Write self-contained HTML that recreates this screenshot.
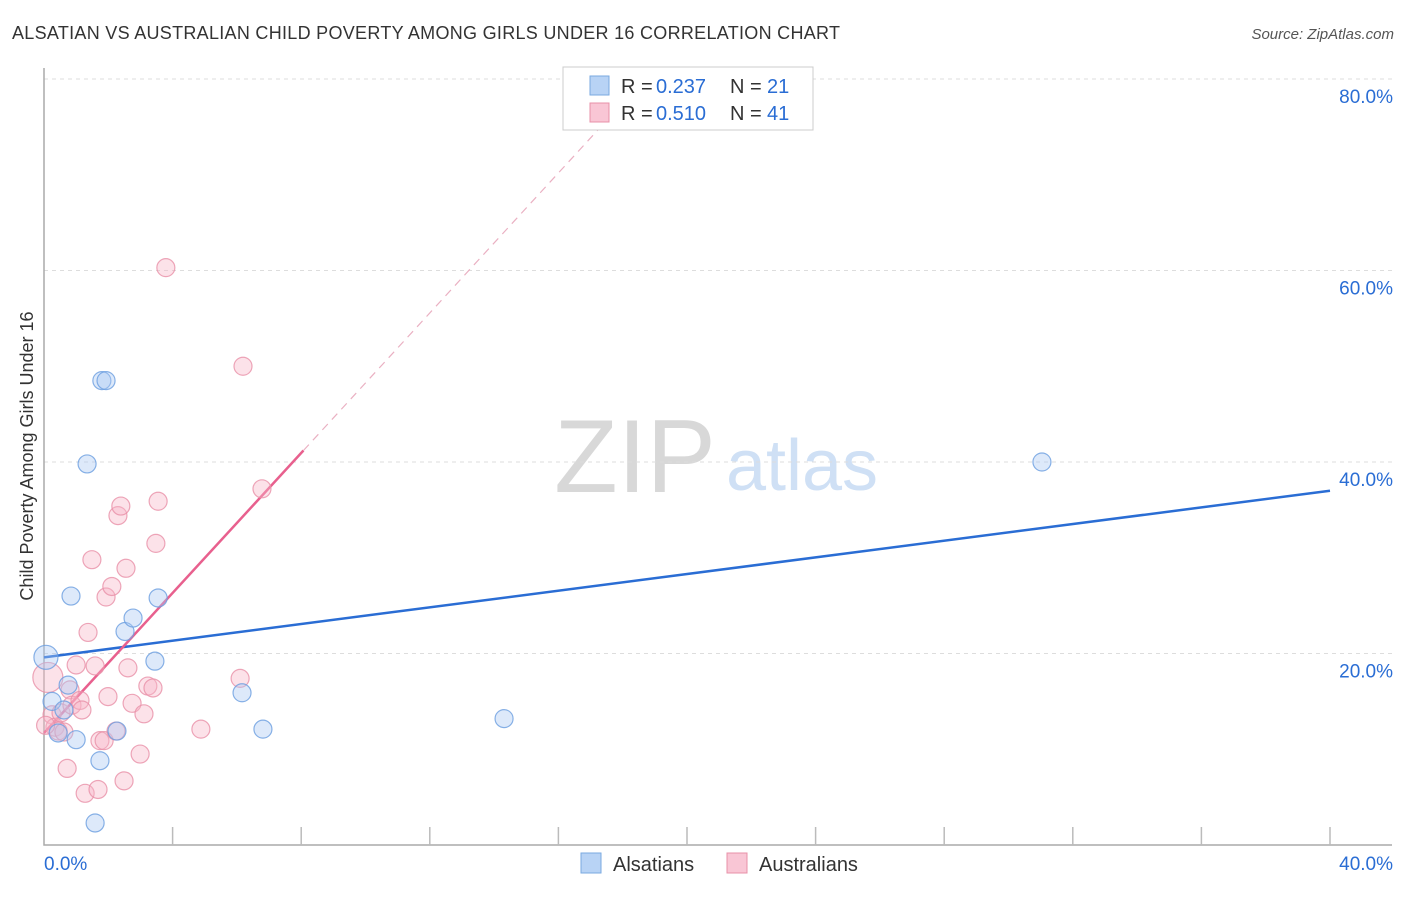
<!DOCTYPE html>
<html><head><meta charset="utf-8"><style>
body{margin:0;background:#fff;font-family:"Liberation Sans",sans-serif}
svg text{font-family:"Liberation Sans",sans-serif}
</style></head><body>
<svg id="c" width="1406" height="892">
<text x="12" y="39" font-size="18" fill="#333" textLength="828" lengthAdjust="spacing">ALSATIAN VS AUSTRALIAN CHILD POVERTY AMONG GIRLS UNDER 16 CORRELATION CHART</text>
<text x="1394" y="39" font-size="15" fill="#555" text-anchor="end" font-style="italic">Source: ZipAtlas.com</text>
<text transform="translate(33,456) rotate(-90)" font-size="18" fill="#333" text-anchor="middle">Child Poverty Among Girls Under 16</text>
<g><text x="635" y="492" font-size="104" fill="#d8d8d8" text-anchor="middle" font-family="Liberation Serif">ZIP</text><text x="802" y="490" font-size="72" fill="#cfe0f5" text-anchor="middle">atlas</text></g>
<g id="grid"></g><g id="axes"></g><g id="lines"></g><g id="pts"></g>
<g>
<rect x="563" y="67" width="250" height="63" fill="#fff" stroke="#ccc"/>
<rect x="590" y="76" width="19" height="19" fill="#b8d3f5" stroke="#7aaae0"/>
<text y="93" font-size="20" fill="#333"><tspan x="621">R = </tspan><tspan fill="#2a6dd4" x="656">0.237</tspan><tspan x="730">N = </tspan><tspan fill="#2a6dd4" x="767">21</tspan></text>
<rect x="590" y="103" width="19" height="19" fill="#f9c6d5" stroke="#e890a8"/>
<text y="120" font-size="20" fill="#333"><tspan x="621">R = </tspan><tspan fill="#2a6dd4" x="656">0.510</tspan><tspan x="730">N = </tspan><tspan fill="#2a6dd4" x="767">41</tspan></text>
</g>
<g>
<rect x="581" y="853" width="20" height="20" fill="#b8d3f5" stroke="#7aaae0"/><text x="613" y="871" font-size="20" fill="#333">Alsatians</text>
<rect x="727" y="853" width="20" height="20" fill="#f9c6d5" stroke="#e890a8"/><text x="759" y="871" font-size="20" fill="#333">Australians</text>
</g>
</svg>
<script>
const blueX=[0.06,0.25,0.44,0.62,0.75,0.84,1.0,1.34,1.59,1.74,1.80,1.93,2.27,2.52,2.77,3.45,3.55,6.16,6.81,14.31,31.04];
const blueY=[19.6,15.0,11.7,14.1,16.7,26.0,11.0,39.8,2.3,8.8,48.5,48.5,11.9,22.3,23.7,19.2,25.8,15.9,12.1,13.2,40.0];
const pinkX=[0.12,0.25,0.34,0.44,0.53,0.62,0.72,0.81,0.87,1.0,1.12,1.18,1.28,1.37,1.49,1.59,1.68,1.74,1.87,1.93,1.99,2.11,2.24,2.30,2.39,2.49,2.55,2.61,2.74,2.99,3.11,3.23,3.39,3.48,3.55,3.79,4.88,6.10,6.19,6.78,0.05];
const pinkY=[17.5,13.6,12.3,11.9,13.8,11.8,8.0,16.2,14.6,18.8,15.1,14.1,5.4,22.2,29.8,18.7,5.8,10.9,10.9,25.9,15.5,27.0,11.9,34.4,35.4,6.7,28.9,18.5,14.8,9.5,13.7,16.6,16.4,31.5,35.9,60.3,12.1,17.4,50.0,37.2,12.5];
const yTicks=[20,40,60,80];
const yTickLabels=["20.0%","40.0%","60.0%","80.0%"];
const xTicks=[0,4,8,12,16,20,24,28,32,36,40];
const blueFit=[19.6,37.0];
const pinkFit=[11.7,41.2];const pinkFitX=8.07;const pinkDashX=18.6;
const X=v=>44+v*1286/40, Y=v=>845-v*191.5/20;
const NS='http://www.w3.org/2000/svg';
function mk(p,t,a){const e=document.createElementNS(NS,t);for(const k in a)e.setAttribute(k,a[k]);document.getElementById(p).appendChild(e);return e;}
yTicks.forEach((t,i)=>{
 let g=mk('grid','line',{x1:44,x2:1392,y1:Y(t),y2:Y(t),stroke:'#ddd','stroke-dasharray':'4,4'});
 
 
 let l=mk('grid','text',{x:1393,y:Y(t)+24,'font-size':19,fill:'#2a6dd4','text-anchor':'end'});l.textContent=yTickLabels[i];
 
 
});
let a=mk('axes','path',{d:'M44,68V845H1392',fill:'none',stroke:'#aaa','stroke-width':1.5});


xTicks.slice(1).forEach(t=>{let k=mk('axes','line',{x1:X(t),x2:X(t),y1:827,y2:845,stroke:'#bbb','stroke-width':1.5});
 
 });
let x0=mk('axes','text',{x:44,y:870,'font-size':19,fill:'#2a6dd4'});x0.textContent='0.0%';


let x1=mk('axes','text',{x:1393,y:870,'font-size':19,fill:'#2a6dd4','text-anchor':'end'});x1.textContent='40.0%';


function dot(x,y,f,s,n,r){let c=mk('pts','circle',{cx:X(x),cy:Y(y),r:r,fill:f,'fill-opacity':0.4,stroke:s,'stroke-width':1.2,'stroke-opacity':0.8});
 
 }
pinkX.forEach((x,i)=>dot(x,pinkY[i],'#f7b6c8','#e890a8','australians-point',i===0?15:9));
blueX.forEach((x,i)=>dot(x,blueY[i],'#a9c9f2','#6a9de0','alsatians-point',i===0?12:9));
const ps=(pinkFit[1]-pinkFit[0])/pinkFitX;
let bl=mk('lines','line',{x1:X(0),y1:Y(blueFit[0]),x2:X(40),y2:Y(blueFit[1]),stroke:'#2a6dd4','stroke-width':2.5});


let pl=mk('lines','line',{x1:X(0),y1:Y(pinkFit[0]),x2:X(pinkFitX),y2:Y(pinkFit[1]),stroke:'#e8608e','stroke-width':2.5});


let pd=mk('lines','line',{x1:X(pinkFitX),y1:Y(pinkFit[1]),x2:X(pinkDashX),y2:Y(pinkFit[0]+ps*pinkDashX),stroke:'#eab0c2','stroke-width':1.2,'stroke-dasharray':'8,6'});


</script>
</body></html>
